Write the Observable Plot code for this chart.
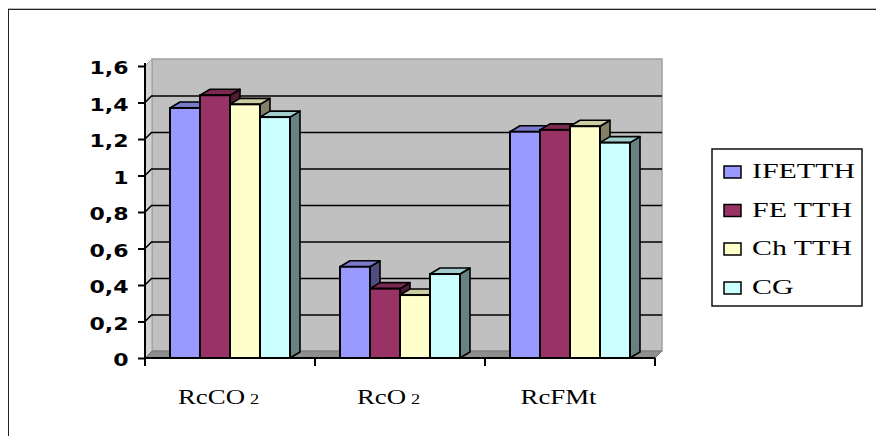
<!DOCTYPE html>
<html><head><meta charset="utf-8">
<script src="https://cdn.jsdelivr.net/npm/d3@7"></script>
<script src="https://cdn.jsdelivr.net/npm/@observablehq/plot@0.6"></script>
<style>
body{margin:0;background:#fff;overflow:hidden;}
#wrap{position:relative;width:876px;height:436px;overflow:hidden;background:#fff;}
#frame{position:absolute;left:8px;top:9px;width:900px;height:500px;border-top:1px solid #222;border-left:1px solid #222;box-shadow:0 -1px 0 #bbb;}
#chart{position:absolute;left:0;top:0;}
#legend{position:absolute;left:0;top:0;}
</style></head>
<body><div id="wrap"><div id="frame"></div><div id="chart"></div><svg id="legend" width="876" height="436"></svg></div>
<script>
const categories = ["RcCO2", "RcO2", "RcFMt"];
const series = ["IFETTH", "FE TTH", "Ch TTH", "CG"];
const colors = ["#9999FF", "#993366", "#FFFFCC", "#CCFFFF"];
const valIFETTH = [1.37, 0.50, 1.24];
const valFETTH  = [1.44, 0.38, 1.25];
const valChTTH  = [1.39, 0.345, 1.27];
const valCG     = [1.32, 0.46, 1.18];
const yTicks = [0, 0.2, 0.4, 0.6, 0.8, 1, 1.2, 1.4, 1.6];
const gridTicks = [0.2, 0.4, 0.6, 0.8, 1, 1.2, 1.4];

const seriesValues = [valIFETTH, valFETTH, valChTTH, valCG];
const rows = categories.flatMap((c, ci) => series.map((s, si) => ({category: c, series: s, value: seriesValues[si][ci]})));

const WALL = 7, DX = 10, DY = 6;
const fmt = d => String(+d.toFixed(1)).replace(".", ",");

const chart = Plot.plot({
  width: 876, height: 436,
  marginLeft: 145, marginRight: 221, marginTop: 66, marginBottom: 78,
  style: {background: "transparent", overflow: "visible"},
  fx: {domain: categories, padding: 0, label: null},
  x: {domain: series, paddingInner: 0, paddingOuter: 0.76, axis: null},
  y: {domain: [0, 1.6], label: null},
  color: {domain: series, range: colors},
  marks: [
    Plot.ruleY(gridTicks, {stroke: "#000", strokeWidth: 1.6, dx: WALL, dy: -WALL}),
    Plot.barY(rows, {fx: "category", x: "series", y: "value", fill: "series", stroke: "#000", strokeWidth: 2}),
    Plot.axisY({ticks: yTicks, tickFormat: fmt, tickSize: 7, tickPadding: 10, strokeWidth: 2, stroke: "#000",
      fontSize: 17.5, fontWeight: "bold", fontFamily: "DejaVu Sans", fill: "#000", label: null}),
    Plot.axisFx({anchor: "bottom", tickSize: 0, tickPadding: 30, fontSize: 22, fontFamily: "Liberation Serif", fill: "#000", label: null, dx: -12})
  ]
});
document.getElementById("chart").appendChild(chart);

const svgNode = chart.tagName.toLowerCase() === "svg" ? chart : chart.querySelector("svg");
const svg = d3.select(svgNode);
const y = chart.scale("y"), fx = chart.scale("fx");
const y0 = y.apply(0), yTop = y.apply(1.6);
const xL = fx.apply(categories[0]);
const xR = fx.apply(categories[categories.length - 1]) + fx.bandwidth;

// 3D background: wall, side wall, floor
const bg = document.createElementNS("http://www.w3.org/2000/svg", "g");
const firstMark = svgNode.querySelector("g");
svgNode.insertBefore(bg, firstMark);
const B = d3.select(bg);
B.append("rect").attr("x", xL + WALL).attr("y", yTop - WALL).attr("width", xR - xL).attr("height", y0 - yTop)
  .attr("fill", "#c0c0c0").attr("stroke", "#a0a0a0").attr("stroke-width", 1.5);
B.append("polygon").attr("points", [[xL, yTop], [xL + WALL, yTop - WALL], [xL + WALL, y0 - WALL], [xL, y0]].join(" "))
  .attr("fill", "#d2d2d2").attr("stroke", "#a0a0a0").attr("stroke-width", 1);
B.append("polygon").attr("points", [[xL, y0], [xL + WALL, y0 - WALL], [xR + WALL, y0 - WALL], [xR, y0]].join(" "))
  .attr("fill", "#8e8e8e").attr("stroke", "#777").attr("stroke-width", 1);
gridTicks.forEach(t => {
  B.append("line").attr("x1", xL).attr("y1", y.apply(t)).attr("x2", xL + WALL).attr("y2", y.apply(t) - WALL)
    .attr("stroke", "#000").attr("stroke-width", 1.6);
});

// 3D bar faces
svg.selectAll('g[aria-label="bar"] rect').each(function() {
  const r = this;
  const x = +r.getAttribute("x"), yy = +r.getAttribute("y"), w = +r.getAttribute("width"), h = +r.getAttribute("height");
  const fill = r.getAttribute("fill") || r.parentNode.getAttribute("fill");
  const c = d3.color(fill);
  const side = document.createElementNS("http://www.w3.org/2000/svg", "polygon");
  side.setAttribute("points", [[x + w, yy + h], [x + w + DX, yy + h - DY], [x + w + DX, yy - DY], [x + w, yy]].join(" "));
  side.setAttribute("fill", c.darker(1.9).formatHex());
  const top = document.createElementNS("http://www.w3.org/2000/svg", "polygon");
  top.setAttribute("points", [[x, yy], [x + DX, yy - DY], [x + w + DX, yy - DY], [x + w, yy]].join(" "));
  top.setAttribute("fill", c.darker(0.63).formatHex());
  for (const p of [side, top]) {
    p.setAttribute("stroke", "#000"); p.setAttribute("stroke-width", 1.6); p.setAttribute("stroke-linejoin", "round");
    r.parentNode.insertBefore(p, r);
  }
});

// axis lines and category boundary ticks
const F = svg.append("g").attr("stroke", "#000").attr("stroke-width", 2);
F.append("line").attr("x1", xL).attr("x2", xL).attr("y1", yTop - 3).attr("y2", y0 + 5);
F.append("line").attr("x1", xL).attr("x2", xR).attr("y1", y0).attr("y2", y0);
[...categories.map(c => fx.apply(c)), xR].forEach(b => {
  F.append("line").attr("x1", b).attr("x2", b).attr("y1", y0).attr("y2", y0 + 8);
});

// horizontal stretch of the texts, subscript digits
function stretch(text, s, shiftY) {
  const t = text.getAttribute("transform") || "";
  let tx = 0, ty = shiftY || 0;
  const xs = text.getAttribute("x"), ys = text.getAttribute("y");
  if (xs !== null && !isNaN(+xs)) { tx += +xs; text.removeAttribute("x"); }
  if (ys !== null && !isNaN(+ys)) { ty += +ys; text.removeAttribute("y"); }
  text.setAttribute("transform", `${t} translate(${tx},${ty}) scale(${s},1)`);
}
svg.selectAll('g[aria-label="y-axis tick label"] text').each(function() { stretch(this, 1.26, 2); });
svg.selectAll('g[aria-label="fx-axis tick label"] text').each(function() {
  const s = this.textContent;
  const m = s.match(/^(.*?)(\d+)$/);
  if (m) {
    this.textContent = m[1];
    d3.select(this).append("tspan").attr("font-size", 15).attr("dx", 4).text(m[2]);
  }
  stretch(this, 1.22, 0);
});

// legend
const L = d3.select("#legend");
L.append("rect").attr("x", 712).attr("y", 149).attr("width", 150).attr("height", 157)
  .attr("fill", "#fff").attr("stroke", "#111").attr("stroke-width", 1.5);
const baselines = [178, 216.5, 255, 294];
series.forEach((s, i) => {
  L.append("rect").attr("x", 724).attr("y", baselines[i] - 12).attr("width", 17).attr("height", 12)
    .attr("fill", colors[i]).attr("stroke", "#000").attr("stroke-width", 1.5);
  L.append("text").attr("transform", `translate(752,${baselines[i]}) scale(1.36,1)`)
    .attr("font-family", "Liberation Serif").attr("font-size", 22).attr("fill", "#000").text(s);
});
</script></body></html>
